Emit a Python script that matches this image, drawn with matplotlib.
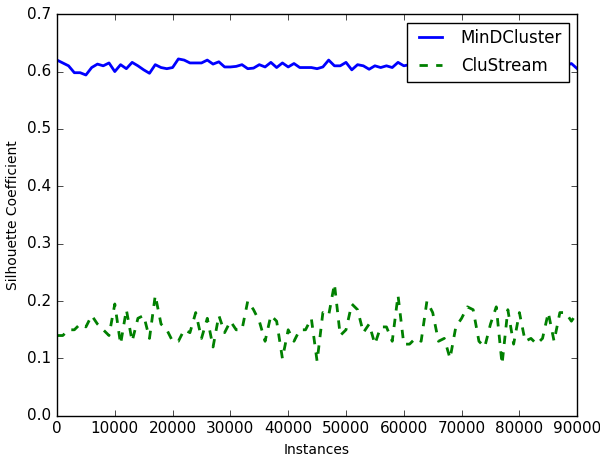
import numpy as np
import matplotlib
matplotlib.use("Agg")
import matplotlib.pyplot as plt

plt.style.use("classic")

instances = np.arange(0, 91000, 1000)

mind_cluster = [
    0.620, 0.615, 0.610, 0.598, 0.598, 0.594, 0.607, 0.613, 0.610, 0.615,
    0.600, 0.612, 0.605, 0.616, 0.610, 0.603, 0.597, 0.612, 0.607, 0.605,
    0.607, 0.622, 0.620, 0.615, 0.615, 0.615, 0.620, 0.613, 0.617, 0.608,
    0.608, 0.609, 0.612, 0.605, 0.606, 0.612, 0.608, 0.616, 0.607, 0.615,
    0.608, 0.614, 0.607, 0.607, 0.607, 0.605, 0.608, 0.620, 0.610, 0.610,
    0.616, 0.603, 0.612, 0.610, 0.604, 0.610, 0.607, 0.610, 0.607, 0.616,
    0.610, 0.612, 0.607, 0.611, 0.606, 0.612, 0.608, 0.614, 0.607, 0.610,
    0.612, 0.606, 0.611, 0.608, 0.613, 0.607, 0.610, 0.612, 0.606, 0.611,
    0.608, 0.613, 0.607, 0.610, 0.612, 0.608, 0.611, 0.609, 0.610, 0.614,
    0.605,
]

clustream = [
    0.140, 0.140, 0.150, 0.150, 0.160, 0.155, 0.175, 0.160, 0.150, 0.140,
    0.195, 0.125, 0.185, 0.130, 0.170, 0.175, 0.135, 0.210, 0.160, 0.150,
    0.130, 0.130, 0.150, 0.145, 0.180, 0.135, 0.170, 0.120, 0.175, 0.145,
    0.165, 0.150, 0.150, 0.200, 0.185, 0.165, 0.130, 0.175, 0.165, 0.100,
    0.150, 0.130, 0.150, 0.150, 0.170, 0.095, 0.180, 0.175, 0.230, 0.140,
    0.150, 0.195, 0.185, 0.145, 0.160, 0.125, 0.155, 0.155, 0.130, 0.210,
    0.125, 0.125, 0.135, 0.130, 0.200, 0.180, 0.130, 0.135, 0.100, 0.155,
    0.170, 0.190, 0.185, 0.130, 0.120, 0.160, 0.190, 0.090, 0.185, 0.125,
    0.180, 0.130, 0.135, 0.125, 0.135, 0.180, 0.130, 0.180, 0.180, 0.165,
    0.180,
]

fig = plt.figure(figsize=(6.0, 4.57), dpi=100, facecolor="white")
ax = fig.add_axes([0.095, 0.090, 0.867, 0.879])

ax.plot(instances, mind_cluster, "b-", linewidth=2, label="MinDCluster")
ax.plot(instances, clustream, "g--", linewidth=2, label="CluStream")

ax.set_xlim(0, 90000)
ax.set_ylim(0.0, 0.7)
ax.set_xlabel("Instances", fontsize=10)
ax.set_ylabel("Silhouette Coefficient", fontsize=10)
ax.tick_params(labelsize=11)

leg = ax.legend(loc="upper right", fontsize=12, framealpha=1,
                labelspacing=0.6, borderpad=0.4)

fig.savefig("out.png", dpi=100, facecolor="white")
